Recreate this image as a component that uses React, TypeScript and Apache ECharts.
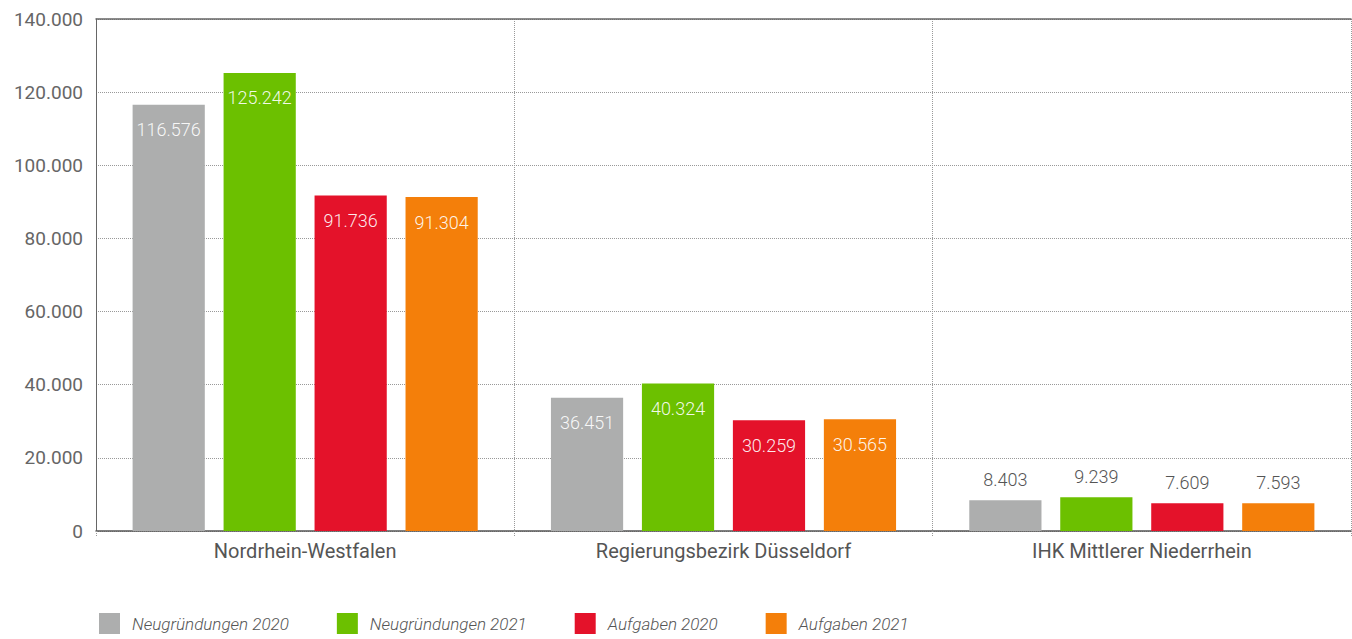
import React, { useEffect, useRef } from "react";
import * as echarts from "echarts";

const categories = ["Nordrhein-Westfalen", "Regierungsbezirk Düsseldorf", "IHK Mittlerer Niederrhein"];
const seriesNames = ["Neugründungen 2020", "Neugründungen 2021", "Aufgaben 2020", "Aufgaben 2021"];
const neugruendungen2020 = [116576, 36451, 8403];
const neugruendungen2021 = [125242, 40324, 9239];
const aufgaben2020 = [91736, 30259, 7609];
const aufgaben2021 = [91304, 30565, 7593];
const colors = ["#adaeae", "#6cc000", "#e4122a", "#f47f0a"];
const yMax = 140000;
const yInterval = 20000;

const fmt = (v: number) => String(v).replace(/\B(?=(\d{3})+(?!\d))/g, ".");

export default function App() {
  const ref = useRef<HTMLDivElement>(null);
  useEffect(() => {
    if (!ref.current) return;
    const chart = echarts.init(ref.current, null, { renderer: "svg" });
    const allSeries = [neugruendungen2020, neugruendungen2021, aufgaben2020, aufgaben2021];
    const font = "Roboto, 'Open Sans', sans-serif";
    chart.setOption({
      animation: false,
      textStyle: { fontFamily: font },
      grid: { left: 96, right: 1, top: 19, bottom: 108, containLabel: false },
      legend: {
        left: 94,
        top: 608,
        itemWidth: 21,
        itemHeight: 21,
        itemGap: 48,
        icon: "rect",
        data: seriesNames,
        textStyle: {
          fontFamily: font,
          fontStyle: "italic",
          fontWeight: 300,
          fontSize: 17,
          color: "#555",
          padding: [0, 0, 0, 7],
        },
      },
      xAxis: [
        {
          type: "category",
          data: categories,
          axisLine: { show: true, lineStyle: { color: "#555", width: 1.5 } },
          axisTick: { show: true, length: 5, lineStyle: { color: "#999", type: "dotted" } },
          splitLine: { show: true, lineStyle: { color: "#999", type: "dotted" } },
          axisLabel: { fontSize: 20, color: "#555", margin: 10, fontFamily: font },
        },
        {
          type: "category",
          data: categories,
          position: "top",
          axisLine: { show: true, lineStyle: { color: "#666", width: 1.5 } },
          axisTick: { show: false },
          axisLabel: { show: false },
          splitLine: { show: false },
        },
      ],
      yAxis: {
        type: "value",
        min: 0,
        max: yMax,
        interval: yInterval,
        axisLine: { show: true, lineStyle: { color: "#666", width: 1 } },
        axisTick: { show: false },
        splitLine: { show: true, lineStyle: { color: "#999", type: "dotted" } },
        axisLabel: {
          fontSize: 19,
          color: "#666",
          margin: 13,
          fontFamily: font,
          formatter: (v: number) => fmt(v),
        },
      },
      series: allSeries.map((vals, si) => ({
        name: seriesNames[si],
        type: "bar",
        barGap: "26%",
        barCategoryGap: "17.5%",
        itemStyle: { color: colors[si] },
        data: vals.map((v) => ({
          value: v,
          label:
            v < 20000
              ? { show: true, position: "top", distance: 12, color: "#555" }
              : { show: true, position: "insideTop", distance: 16, color: "rgba(255,255,255,0.92)" },
        })),
        label: {
          show: true,
          fontSize: 18,
          fontWeight: 300,
          fontFamily: font,
          formatter: (p: any) => fmt(p.value),
        },
      })),
    });
    return () => chart.dispose();
  }, []);
  return (
    <div
      ref={ref}
      style={{ position: "absolute", left: 0, top: 0, width: 1352, height: 639, background: "#fff" }}
    />
  );
}
